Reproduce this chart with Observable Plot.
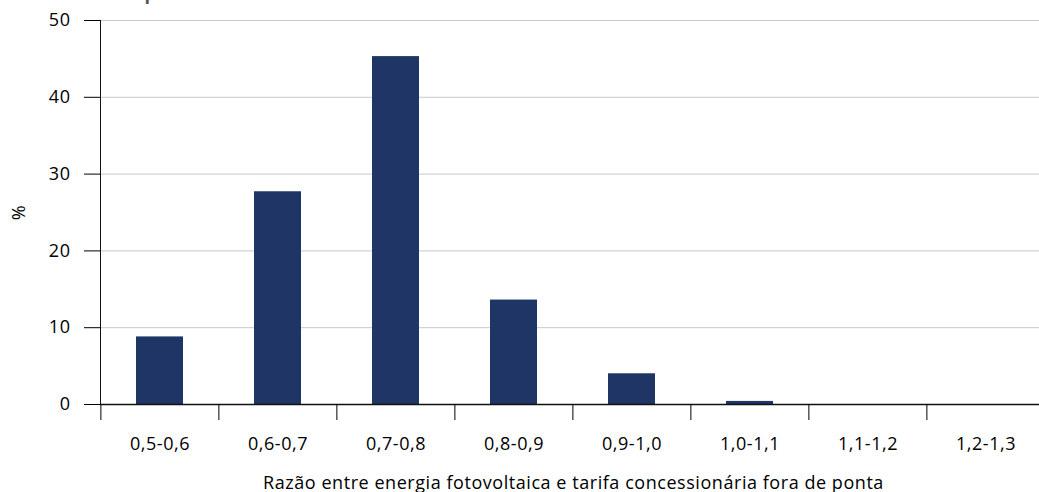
<!DOCTYPE html>
<html><head><meta charset="utf-8">
<script src="https://cdn.jsdelivr.net/npm/d3@7"></script>
<script src="https://cdn.jsdelivr.net/npm/@observablehq/plot@0.6"></script>
<style>
body{margin:0;background:#fff;position:relative;overflow:hidden;width:1039px;height:492px}
#title{position:absolute;left:72px;top:-19px;font:bold 18px 'Open Sans';letter-spacing:0.5px;color:#555;white-space:nowrap}
</style>
</head><body><div id="title">fora de ponta</div><div id="chart"></div>
<script>
const categories = ["0,5-0,6","0,6-0,7","0,7-0,8","0,8-0,9","0,9-1,0","1,0-1,1","1,1-1,2","1,2-1,3"];
const values = [8.8, 27.7, 45.3, 13.6, 4.0, 0.4, 0, 0];
const yTicks = [0, 10, 20, 30, 40, 50];
const yLabel = "%";
const xLabel = "Razão entre energia fotovoltaica e tarifa concessionária fora de ponta";

const data = categories.map((c, i) => ({c, v: values[i]}));
const W = 1039, H = 492, mL = 100, mR = -7, n = categories.length;
const step = (W - mL - mR) / n;
const chart = Plot.plot({
  width: W, height: H, marginTop: 20, marginBottom: 88, marginLeft: mL, marginRight: mR,
  style: {fontFamily: "Open Sans", fontSize: "18px", letterSpacing: "0.55px", color: "#000", background: "white", overflow: "visible"},
  x: {domain: categories, paddingInner: 0.6, paddingOuter: 0.3},
  y: {domain: [0, 50]},
  marks: [
    Plot.gridY(yTicks.slice(1), {stroke: "#c8c8c8", strokeOpacity: 1}),
    Plot.barY(data, {x: "c", y: "v", fill: "#1f3566"}),
    Plot.ruleY([0], {stroke: "#111", strokeWidth: 1.3}),
    Plot.axisY(yTicks, {tickSize: 16, tickPadding: 14, label: yLabel, labelAnchor: "center", labelArrow: "none", labelOffset: 88}),
    Plot.axisX({tickSize: 0, tickPadding: 33, label: xLabel, labelAnchor: "center", labelArrow: "none", labelOffset: 84}),
    Plot.axisX({tickSize: 16, tickFormat: () => "", dx: -step / 2, label: null}),
    Plot.frame({anchor: "left", stroke: "#111"})
  ]
});
document.getElementById("chart").appendChild(chart);
</script>
</body></html>
